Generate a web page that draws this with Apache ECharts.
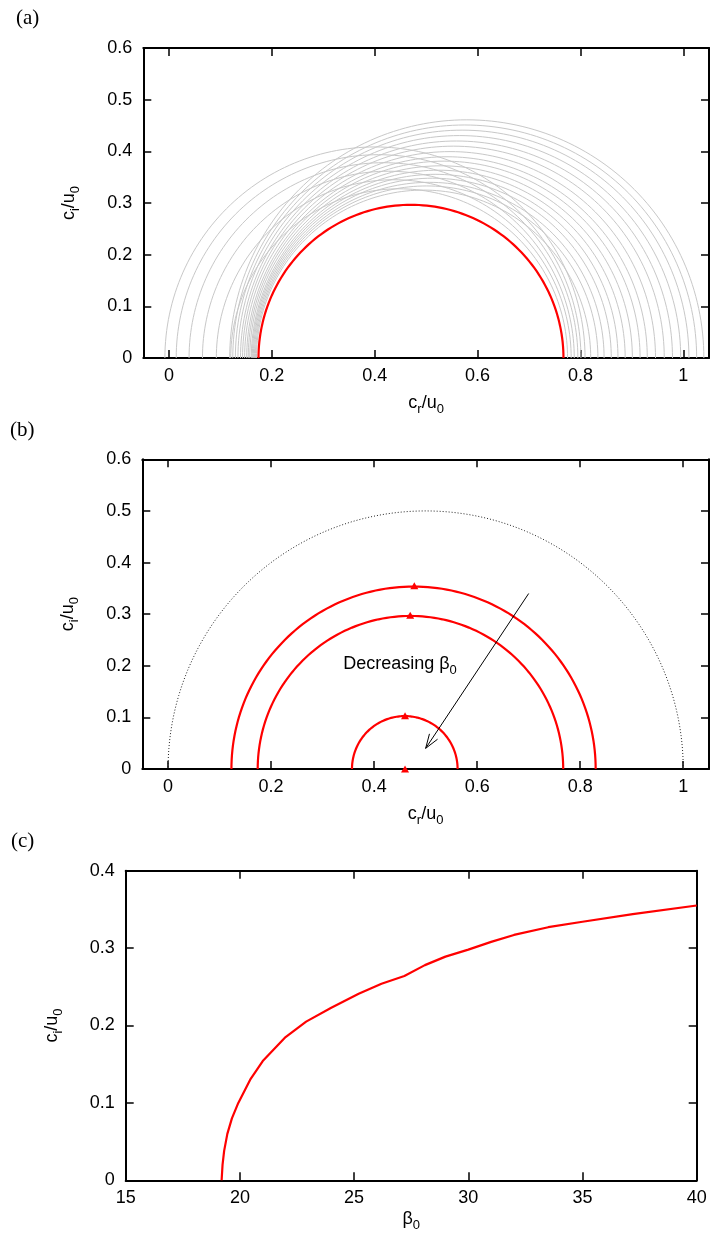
<!DOCTYPE html>
<html>
<head>
<meta charset="utf-8">
<script src="https://cdn.jsdelivr.net/npm/echarts@6/dist/echarts.min.js"></script>
<style>
html, body { margin: 0; padding: 0; background: #fff; }
#chart { width: 710px; height: 1240px; }
</style>
</head>
<body>
<div id="chart"></div>
<script>
// (a) gray semicircles, given by where they meet the c_r axis
var grayLeft  = [-0.008, 0.014, 0.039, 0.065, 0.092, 0.120,
                 0.118, 0.124, 0.129, 0.134, 0.139, 0.143, 0.147, 0.151,
                 0.154, 0.157, 0.160, 0.162, 0.164, 0.166, 0.168, 0.170];
var grayRight = [0.809, 0.801, 0.795, 0.788, 0.782, 0.775,
                 1.040, 1.026, 1.011, 0.995, 0.979, 0.963, 0.946, 0.930,
                 0.916, 0.901, 0.887, 0.873, 0.860, 0.846, 0.834, 0.820];
// red semicircle in (a)
var redLeftA = [0.174];
var redRightA = [0.767];

// (b) red semicircles for decreasing beta0, and the dotted bound
var redLeftB  = [0.123, 0.174, 0.357];
var redRightB = [0.830, 0.767, 0.562];
var boundLeft = [0];
var boundRight = [1];
var peakCr = [0.478, 0.470, 0.460, 0.460];
var peakCi = [0.355, 0.298, 0.103, 0];
var arrowFrom = [0.70, 0.34];
var arrowTo = [0.50, 0.04];
var noteAt = [0.34, 0.203];

// (c) growth rate against beta0
var beta0 = [19.2, 19.24, 19.31, 19.45, 19.65, 19.93, 20.45, 21.0, 22.0, 22.9,
             24.0, 25.2, 26.2, 27.2, 28.1, 29.0, 30.0, 31.0, 32.0, 33.5, 35.0, 37.2, 40.0];
var ciC   = [0, 0.02, 0.038, 0.060, 0.080, 0.100, 0.130, 0.154, 0.185, 0.205,
             0.223, 0.241, 0.254, 0.264, 0.278, 0.289, 0.298, 0.308, 0.317, 0.327, 0.334, 0.344, 0.355];

var xTicksAB = [0, 0.2, 0.4, 0.6, 0.8, 1];

var FONT = 'Liberation Sans';
var rich = {
    m: { fontFamily: FONT, fontSize: 18, color: '#000', lineHeight: 26, verticalAlign: 'middle' },
    s: { fontFamily: FONT, fontSize: 13, color: '#000', lineHeight: 13, verticalAlign: 'bottom' }
};

function toArcs(left, right) {
    return left.map(function (l, i) {
        return [(l + right[i]) / 2, (right[i] - l) / 2];
    });
}

function arcRenderer(stroke, width, dash) {
    return function (params, api) {
        var c = api.value(0), r = api.value(1);
        var pts = [];
        for (var k = 0; k <= 120; k++) {
            var t = Math.PI * k / 120;
            pts.push(api.coord([c + r * Math.cos(t), r * Math.sin(t)]));
        }
        return {
            type: 'polyline',
            shape: { points: pts },
            style: { fill: null, stroke: stroke, lineWidth: width, lineDash: dash || null }
        };
    };
}

function arrowRenderer(params, api) {
    var p1 = api.coord([api.value(0), api.value(1)]);
    var p2 = api.coord([api.value(2), api.value(3)]);
    var ang = Math.atan2(p2[1] - p1[1], p2[0] - p1[0]);
    var len = 15, spread = 0.33;
    var h1 = [p2[0] - len * Math.cos(ang - spread), p2[1] - len * Math.sin(ang - spread)];
    var h2 = [p2[0] - len * Math.cos(ang + spread), p2[1] - len * Math.sin(ang + spread)];
    return {
        type: 'group',
        children: [
            { type: 'line', shape: { x1: p1[0], y1: p1[1], x2: p2[0], y2: p2[1] },
              style: { stroke: '#000', lineWidth: 1 } },
            { type: 'polyline', shape: { points: [h1, p2, h2] },
              style: { stroke: '#000', fill: null, lineWidth: 1 } }
        ]
    };
}

var axisLine = { show: true, onZero: false, lineStyle: { color: '#000', width: 2 } };
var tickStyle = { lineStyle: { color: '#000', width: 1.5 } };

function xPair(grid, min, max, opts, name, nameGap) {
    var bottom = {
        type: 'value', gridIndex: grid, position: 'bottom', min: min, max: max,
        name: name, nameLocation: 'middle', nameGap: nameGap,
        nameTextStyle: { rich: rich },
        axisLine: axisLine, splitLine: { show: false },
        axisTick: Object.assign({ inside: true, length: 8 }, tickStyle),
        axisLabel: { fontFamily: FONT, fontSize: 18, color: '#000', margin: 9 }
    };
    var top = {
        type: 'value', gridIndex: grid, position: 'top', min: min, max: max,
        axisLine: axisLine, splitLine: { show: false },
        axisTick: Object.assign({ inside: true, length: 8 }, tickStyle),
        axisLabel: { show: false }
    };
    if (opts.custom) {
        bottom.axisTick.customValues = opts.custom;
        bottom.axisLabel.customValues = opts.custom;
        top.axisTick.customValues = opts.custom;
    } else {
        bottom.interval = opts.interval;
        top.interval = opts.interval;
    }
    return [bottom, top];
}

function yPair(grid, max, interval, name) {
    return [{
        type: 'value', gridIndex: grid, position: 'left', min: 0, max: max, interval: interval,
        name: name, nameLocation: 'middle', nameGap: 61,
        nameTextStyle: { rich: rich },
        axisLine: axisLine, splitLine: { show: false },
        axisTick: Object.assign({ inside: true, length: 8 }, tickStyle),
        axisLabel: { fontFamily: FONT, fontSize: 18, color: '#000', margin: 11 }
    }, {
        type: 'value', gridIndex: grid, position: 'right', min: 0, max: max, interval: interval,
        axisLine: axisLine, splitLine: { show: false },
        axisTick: Object.assign({ inside: true, length: 8 }, tickStyle),
        axisLabel: { show: false }
    }];
}

var crName = '{m|c}{s|r}{m|/u}{s|0}';
var ciName = '{m|c}{s|i}{m|/u}{s|0}';
var betaName = '{m|β}{s|0}';

var xAxes = [].concat(
    xPair(0, -0.05, 1.05, { custom: xTicksAB }, crName, 32),
    xPair(1, -0.05, 1.05, { custom: xTicksAB }, crName, 32),
    xPair(2, 15, 40, { interval: 5 }, betaName, 26)
);
var yAxes = [].concat(
    yPair(0, 0.6, 0.1, ciName),
    yPair(1, 0.6, 0.1, ciName),
    yPair(2, 0.4, 0.1, ciName)
);

var panelTitle = function (text, left, top) {
    return { text: text, left: left, top: top,
             textStyle: { fontFamily: 'Liberation Serif', fontSize: 21, fontWeight: 'normal', color: '#000' } };
};

var option = {
    animation: false,
    backgroundColor: '#fff',
    title: [panelTitle('(a)', 11, 3), panelTitle('(b)', 5, 415), panelTitle('(c)', 6, 826)],
    grid: [
        { left: 143.3, top: 48, width: 565.7, height: 310 },
        { left: 142.3, top: 459.3, width: 566.7, height: 309.7 },
        { left: 125.7, top: 870.7, width: 571, height: 309.6 }
    ],
    xAxis: xAxes,
    yAxis: yAxes,
    series: [
        { type: 'custom', xAxisIndex: 0, yAxisIndex: 0, clip: true,
          renderItem: arcRenderer('#c8c8c8', 1), data: toArcs(grayLeft, grayRight) },
        { type: 'custom', xAxisIndex: 0, yAxisIndex: 0, clip: true,
          renderItem: arcRenderer('#ff0000', 2.2), data: toArcs(redLeftA, redRightA) },

        { type: 'custom', xAxisIndex: 2, yAxisIndex: 2, clip: true,
          renderItem: arcRenderer('#222', 1, [1, 2]), data: toArcs(boundLeft, boundRight) },
        { type: 'custom', xAxisIndex: 2, yAxisIndex: 2, clip: true,
          renderItem: arcRenderer('#ff0000', 2.2), data: toArcs(redLeftB, redRightB) },
        { type: 'scatter', xAxisIndex: 2, yAxisIndex: 2, symbol: 'triangle', symbolSize: [8, 7],
          itemStyle: { color: '#ff0000', opacity: 1 },
          data: peakCr.map(function (x, i) { return [x, peakCi[i]]; }) },
        { type: 'custom', xAxisIndex: 2, yAxisIndex: 2,
          renderItem: arrowRenderer, data: [arrowFrom.concat(arrowTo)] },
        { type: 'scatter', xAxisIndex: 2, yAxisIndex: 2, symbolSize: 0, silent: true,
          itemStyle: { opacity: 1 },
          label: { show: true, position: 'right', distance: 0, color: '#000',
                   textBorderWidth: 0, formatter: '{m|Decreasing β}{s|0}', rich: rich },
          data: [noteAt] },

        { type: 'line', xAxisIndex: 4, yAxisIndex: 4, showSymbol: false,
          lineStyle: { color: '#ff0000', width: 2.2 },
          data: beta0.map(function (b, i) { return [b, ciC[i]]; }) }
    ]
};

echarts.init(document.getElementById('chart')).setOption(option);
</script>
</body>
</html>
